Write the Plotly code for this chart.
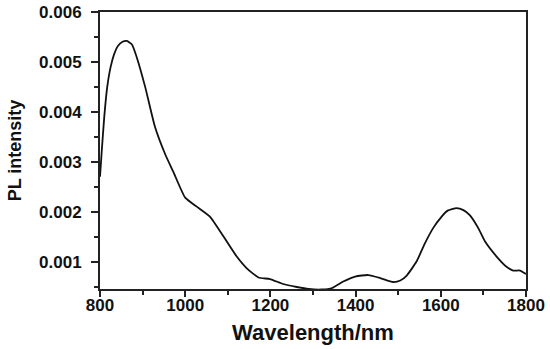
import plotly.graph_objects as go

wavelength_nm = [800, 804, 810, 817, 825, 833, 842, 852, 863, 875, 886, 906, 929, 953, 972,
                 1000, 1027, 1058, 1090, 1121, 1144, 1172, 1199, 1230, 1262, 1290,
                 1320, 1345, 1371, 1399, 1430, 1458, 1488, 1505, 1520, 1543, 1563,
                 1582, 1602, 1616, 1637, 1653, 1668, 1688, 1704, 1731, 1755, 1770,
                 1786, 1800]
pl_intensity = [0.0027, 0.0032, 0.0039, 0.0045, 0.0049, 0.00515, 0.00532, 0.0054, 0.00542,
                0.00535, 0.0051, 0.0045, 0.0037, 0.00315, 0.0028, 0.00228, 0.0021, 0.0019,
                0.0015, 0.0011, 0.00087, 0.00068, 0.00065, 0.00055, 0.00049, 0.00045,
                0.00044, 0.00047, 0.0006, 0.0007, 0.00073, 0.00067, 0.00059, 0.00062,
                0.00072, 0.0010, 0.00137, 0.00167, 0.00190, 0.00202, 0.00207, 0.00203,
                0.00193, 0.00167, 0.0014, 0.0011, 0.00089, 0.00082, 0.00082, 0.00075]

x_ticks = [800, 1000, 1200, 1400, 1600, 1800]
x_minor = [900, 1100, 1300, 1500, 1700]
y_ticks = [0.001, 0.002, 0.003, 0.004, 0.005, 0.006]
y_tick_labels = ["0.001", "0.002", "0.003", "0.004", "0.005", "0.006"]
y_minor = [0.0005, 0.0015, 0.0025, 0.0035, 0.0045, 0.0055]

FONT = "Liberation Sans, Arial, sans-serif"

fig = go.Figure()
fig.add_trace(go.Scatter(
    x=wavelength_nm, y=pl_intensity, mode="lines",
    line=dict(color="#111111", width=1.8, shape="spline", smoothing=0.5),
    showlegend=False, hoverinfo="skip"))

axis_common = dict(
    showgrid=False, zeroline=False, showline=True, linewidth=2, linecolor="#222222",
    mirror=True, ticks="outside", tickcolor="#222222", tickwidth=1.5, automargin=False,
    tickfont=dict(family=FONT, size=17, color="#111111", weight="bold"),
)

fig.update_xaxes(
    range=[800, 1800], tickvals=x_ticks, ticklen=6, ticklabelstandoff=-6,
    minor=dict(tickvals=x_minor, ticklen=3.5, ticks="outside", tickcolor="#222222", tickwidth=1.5),
    title=dict(text="<b>Wavelength/nm</b>", font=dict(family=FONT, size=22, color="#111111"), standoff=10),
    **axis_common)
fig.update_yaxes(
    range=[0.00045, 0.006], tickvals=y_ticks, ticktext=y_tick_labels, ticklen=7,
    ticklabelstandoff=6,
    minor=dict(tickvals=y_minor, ticklen=4, ticks="outside", tickcolor="#222222", tickwidth=1.5),
    title=dict(text="<b>PL intensity</b>", font=dict(family=FONT, size=18, color="#111111"), standoff=13),
    **axis_common)

fig.update_layout(
    width=550, height=349,
    margin=dict(l=100, r=24, t=12, b=60),
    paper_bgcolor="white", plot_bgcolor="white",
)

fig.write_html("out.html", config={"displayModeBar": False},
               post_script="document.body.style.margin='0';")
